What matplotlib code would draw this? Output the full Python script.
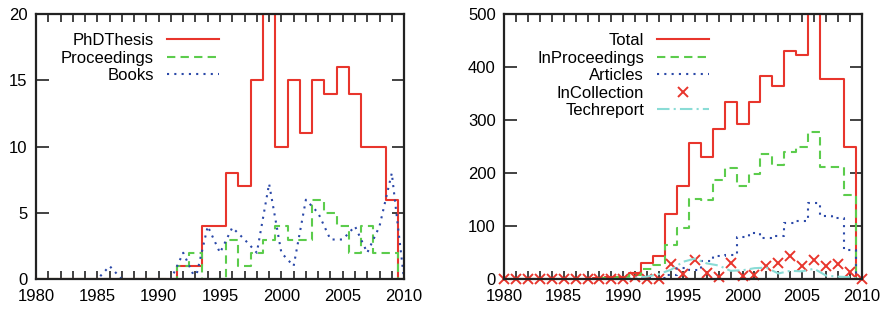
import matplotlib
matplotlib.use('Agg')
import matplotlib.pyplot as plt
from matplotlib.ticker import MultipleLocator

plt.rcParams['font.family'] = ['Liberation Sans', 'DejaVu Sans']
plt.rcParams['font.size'] = 12

years = list(range(1980, 2011))

# left panel
phd = [0, 0, 0, 0, 0, 0, 0, 0, 0, 0, 0, 0, 1, 1, 4, 4, 8, 7, 15, 25,
       10, 15, 11, 15, 14, 16, 14, 10, 10, 6, 0]
proceedings = [0, 0, 0, 0, 0, 0, 0, 0, 0, 0, 0, 0, 1, 2, 0, 0, 3, 1, 2, 3,
               4, 3, 3, 6, 5, 4, 2, 4, 2, 2, 0]
books = [0, 0, 0, 0, 0, 0, 1, 0, 0, 0, 0, 0, 2, 0, 4, 2, 3.9, 3, 2, 7.2,
         2, 1, 6, 5, 3, 3, 4, 2, 4, 8, 0]

# right panel
total = [0, 0, 0, 0, 0, 0, 0, 1, 2, 4, 5, 12, 30, 44, 124, 176, 256, 230, 283, 334,
         293, 335, 384, 364, 430, 422, 530, 377, 377, 250, 0]
inproceedings = [0, 0, 0, 0, 0, 0, 0, 1, 2, 3, 4, 8, 19, 27, 65, 97, 151, 149, 187, 209,
                 176, 198, 236, 215, 240, 249, 278, 211, 211, 159, 0]
articles = [0, 0, 0, 0, 0, 0, 0, 0, 0, 0, 0, 1, 2, 3, 8, 22, 17, 35, 44, 46,
            79, 87, 78, 82, 107, 109, 143, 119, 115, 56, 0]
incollection = [0, 0, 0, 0, 0, 0, 0, 0, 0, 0, 0, 5, 0, 0, 28, 10, 36, 11, 4, 31,
                6, 8, 26, 31, 43, 25, 36, 25, 29, 14, 0]
techreport = [0, 0, 0, 0, 0, 0, 0, 0, 0, 0, 0, 3, 5, 10, 18, 33, 39, 30, 26, 16,
              17, 21, 22, 11, 16, 15, 20, 7, 5, 4, 0]

RED = '#e8352c'
GREEN = '#5ccc4c'
BLUE = '#2a48a8'
CYAN = '#8adcd6'

fig = plt.figure(figsize=(8.89, 3.10), dpi=100)
ax1 = fig.add_axes([0.0405, 0.099, 0.414, 0.856])
ax2 = fig.add_axes([0.567, 0.099, 0.4024, 0.856])


def style(ax, ymax, ystep):
    ax.set_xlim(1980, 2010)
    ax.set_ylim(0, ymax)
    ax.xaxis.set_major_locator(MultipleLocator(5))
    ax.xaxis.set_minor_locator(MultipleLocator(1))
    ax.yaxis.set_major_locator(MultipleLocator(ystep))
    ax.tick_params(which='both', direction='in', top=True, right=True,
                   width=1.2, color='#222222')
    ax.tick_params(axis='x', which='both', length=6, pad=7)
    ax.tick_params(axis='y', which='major', length=9, pad=6)
    for s in ax.spines.values():
        s.set_linewidth(1.6)
        s.set_color('#222222')


ax1.step(years, phd, where='mid', color=RED, lw=1.5, label='PhDThesis')
ax1.step(years, proceedings, where='mid', color=GREEN, lw=1.5,
         dashes=(4, 2.5), label='Proceedings')
ax1.plot(years, books, color=BLUE, lw=1.5, dashes=(1, 2.5), label='Books')
style(ax1, 20, 5)
ax1.legend(loc='upper right', bbox_to_anchor=(0.497, 0.928), frameon=False,
           markerfirst=False, borderpad=0, borderaxespad=0, labelspacing=0.15,
           handlelength=3.1, handletextpad=0.8)

ax2.step(years, total, where='mid', color=RED, lw=1.5, label='Total')
ax2.step(years, inproceedings, where='mid', color=GREEN, lw=1.5,
         dashes=(4, 2.5), label='InProceedings')
ax2.step(years, articles, where='mid', color=BLUE, lw=1.5,
         dashes=(1, 2.5), label='Articles')
ax2.plot(years, incollection, linestyle='none', marker='x', color=RED,
         markersize=7, mew=1.4, clip_on=False, label='InCollection')
ax2.plot(years, techreport, color=CYAN, lw=1.5, dashes=(6, 2, 1, 2),
         label='Techreport')
style(ax2, 500, 100)
ax2.legend(loc='upper right', bbox_to_anchor=(0.573, 0.928), frameon=False,
           markerfirst=False, borderpad=0, borderaxespad=0, labelspacing=0.15,
           handlelength=3.1, handletextpad=0.8)

fig.savefig('out.png', dpi=100)
